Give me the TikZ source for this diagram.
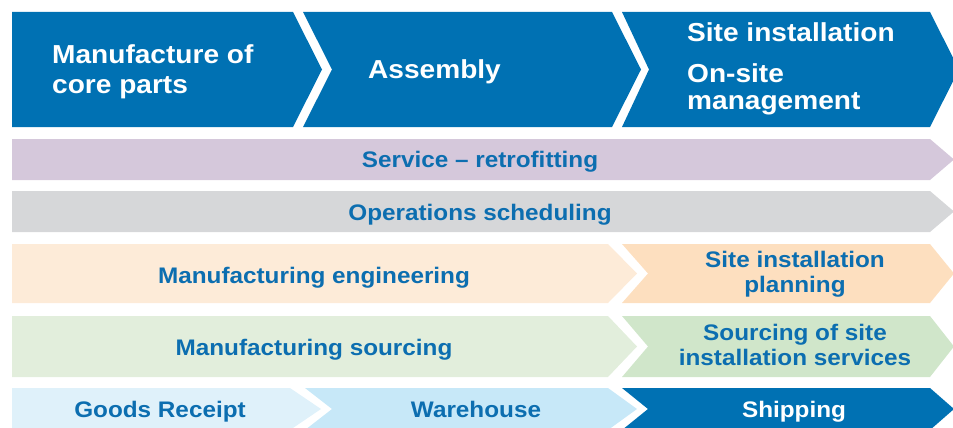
\documentclass[tikz,border=0pt]{standalone}
\usepackage{fontspec}
\setmainfont{Liberation Sans}[FakeStretch=1.08]
\definecolor{dkblue}{HTML}{0071B3}
\definecolor{txtblue}{HTML}{0C6EB0}
\definecolor{lavender}{HTML}{D5C8DB}
\definecolor{lgray}{HTML}{D6D7D9}
\definecolor{peachA}{HTML}{FDEBD8}
\definecolor{peachB}{HTML}{FDDFBF}
\definecolor{greenA}{HTML}{E2EEDC}
\definecolor{greenB}{HTML}{D0E6CA}
\definecolor{skyA}{HTML}{DFF1FA}
\definecolor{skyB}{HTML}{C7E8F8}
\tikzset{
  toplbl/.style={inner sep=0pt, text=white, align=left,
    font=\bfseries\fontsize{26}{28}\selectfont},
  rowlbl/.style={inner sep=0pt, text=txtblue, align=center,
    font=\bfseries\fontsize{22.5}{24.5}\selectfont},
}
\begin{document}
\begin{tikzpicture}[x=1pt,y=-1pt]
\useasboundingbox (0,0) rectangle (953,428);
\clip (0,0) rectangle (953,428);
% top row
\fill[dkblue] (12,12) -- (293,12) -- (322,69.5) -- (293,127) -- (12,127) -- cycle;
\fill[dkblue] (303,12) -- (612,12) -- (641,69.5) -- (612,127) -- (303,127) -- (332,69.5) -- cycle;
\fill[dkblue] (622,12) -- (930,12) -- (959,69.5) -- (930,127) -- (622,127) -- (649,69.5) -- cycle;
% row 2, 3
\fill[lavender] (12,139) -- (930,139) -- (954,159.5) -- (930,180) -- (12,180) -- cycle;
\fill[lgray] (12,191) -- (930,191) -- (954,211.5) -- (930,232) -- (12,232) -- cycle;
% row 4
\fill[peachA] (12,244) -- (608,244) -- (637,273.5) -- (608,303) -- (12,303) -- cycle;
\fill[peachB] (622,244) -- (930,244) -- (954,273.5) -- (930,303) -- (622,303) -- (648,273.5) -- cycle;
% row 5
\fill[greenA] (12,316) -- (608,316) -- (637,346.5) -- (608,377) -- (12,377) -- cycle;
\fill[greenB] (622,316) -- (930,316) -- (954,346.5) -- (930,377) -- (622,377) -- (648,346.5) -- cycle;
% row 6
\fill[skyA] (12,388) -- (290,388) -- (321,409) -- (290,430) -- (12,430) -- cycle;
\fill[skyB] (305,388) -- (608,388) -- (637,409) -- (608,430) -- (305,430) -- (332,409) -- cycle;
\fill[dkblue] (622,388) -- (930,388) -- (954,409) -- (930,430) -- (622,430) -- (648,409) -- cycle;
% labels (anchor=base of a multi-line node is the baseline of its last line)
\node[toplbl, anchor=base west, font=\bfseries\fontsize{26}{30}\selectfont] (mcp) at (52,93) {Manufacture of\\core parts};
\node[toplbl, anchor=base west] (asm) at (368,78) {Assembly};
\node[toplbl, anchor=base west] (site) at (687,110) {Site installation\\[12pt]On-site\\management};
\node[rowlbl, anchor=base] (svc) at (480,167) {Service – retrofitting};
\node[rowlbl, anchor=base] (ops) at (480,220) {Operations scheduling};
\node[rowlbl, anchor=base] (meng) at (314,283) {Manufacturing engineering};
\node[rowlbl, anchor=base] (sip) at (795,292) {Site installation\\planning};
\node[rowlbl, anchor=base] (msrc) at (314,355) {Manufacturing sourcing};
\node[rowlbl, anchor=base] (sos) at (795,365) {Sourcing of site\\installation services};
\node[rowlbl, anchor=base] (gr) at (160,417) {Goods Receipt};
\node[rowlbl, anchor=base] (wh) at (476,417) {Warehouse};
\node[rowlbl, anchor=base, text=white] (ship) at (794,417) {Shipping};
\end{tikzpicture}
\end{document}
